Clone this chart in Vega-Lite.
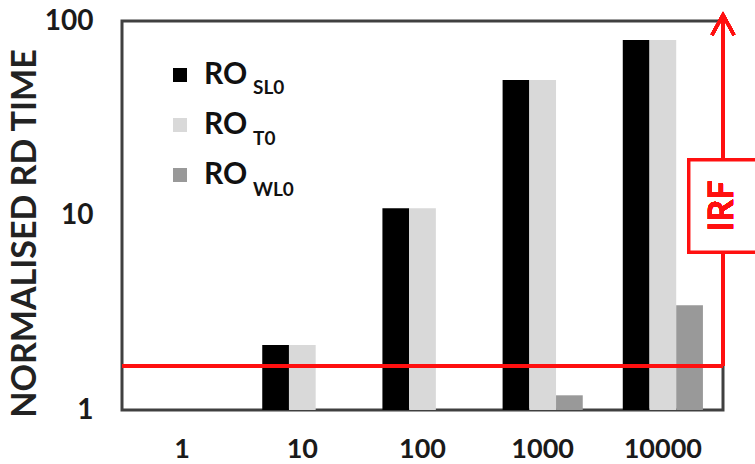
{
  "$schema": "https://vega.github.io/schema/vega-lite/v6.json",
  "width": 601,
  "height": 389,
  "autosize": {"type": "none"},
  "padding": {"left": 122, "top": 21, "right": 32, "bottom": 54},
  "background": "white",
  "config": {
    "view": {"stroke": "#404040", "strokeWidth": 3},
    "font": "Lato"
  },
  "data": {
    "values": [
      {"size": "1", "series": "RO_SL0", "sub": "SL0", "value": 1},
      {"size": "1", "series": "RO_T0", "sub": "T0", "value": 1},
      {"size": "1", "series": "RO_WL0", "sub": "WL0", "value": 1},
      {"size": "10", "series": "RO_SL0", "sub": "SL0", "value": 2.16},
      {"size": "10", "series": "RO_T0", "sub": "T0", "value": 2.16},
      {"size": "10", "series": "RO_WL0", "sub": "WL0", "value": 1},
      {"size": "100", "series": "RO_SL0", "sub": "SL0", "value": 10.9},
      {"size": "100", "series": "RO_T0", "sub": "T0", "value": 10.9},
      {"size": "100", "series": "RO_WL0", "sub": "WL0", "value": 1},
      {"size": "1000", "series": "RO_SL0", "sub": "SL0", "value": 49.8},
      {"size": "1000", "series": "RO_T0", "sub": "T0", "value": 49.8},
      {"size": "1000", "series": "RO_WL0", "sub": "WL0", "value": 1.19},
      {"size": "10000", "series": "RO_SL0", "sub": "SL0", "value": 79.9},
      {"size": "10000", "series": "RO_T0", "sub": "T0", "value": 79.9},
      {"size": "10000", "series": "RO_WL0", "sub": "WL0", "value": 3.46}
    ]
  },
  "layer": [
    {
      "mark": {"type": "bar"},
      "encoding": {
        "x": {
          "field": "size", "type": "nominal",
          "sort": ["1", "10", "100", "1000", "10000"],
          "scale": {"paddingInner": 0.333, "paddingOuter": 0.167},
          "axis": {
            "title": null, "labelAngle": 0, "ticks": false, "domain": false,
            "labelFontSize": 27, "labelFontWeight": "bold", "labelColor": "#1a1a1a", "labelPadding": 26,
            "labelFont": "Lato"
          }
        },
        "xOffset": {
          "field": "series", "type": "nominal",
          "sort": ["RO_SL0", "RO_T0", "RO_WL0"],
          "scale": {"paddingInner": 0, "paddingOuter": 0}
        },
        "y": {
          "field": "value", "type": "quantitative", "stack": null,
          "scale": {"type": "log", "domain": [1, 100], "nice": false},
          "axis": {
            "values": [1, 10, 100], "format": "d", "ticks": false, "domain": false, "grid": false,
            "labelFontSize": 28, "labelFontWeight": "bold", "labelColor": "#1a1a1a", "labelPadding": 29, "labelFont": "Lato",
            "title": "NORMALISED RD TIME", "titleFontSize": 34, "titleFont": "Lato",
            "titleFontWeight": "bold", "titleColor": "#222222",
            "titleX": -97, "titleY": 212, "titleAngle": 270,
            "titleAlign": "center", "titleBaseline": "middle"
          }
        },
        "color": {
          "field": "series", "type": "nominal",
          "scale": {"domain": ["RO_SL0", "RO_T0", "RO_WL0"], "range": ["#000000", "#d9d9d9", "#999999"]},
          "legend": {
            "orient": "none", "legendX": 43, "legendY": 39, "title": null,
            "symbolType": "square", "symbolSize": 196, "symbolStrokeWidth": 0,
            "labelFontSize": 30, "labelFont": "Lato", "labelFontWeight": "bold", "labelColor": "#111111",
            "labelOffset": 9, "rowPadding": 20, "padding": 0, "labelExpr": "'RO'"
          }
        },
        "opacity": {
          "field": "sub", "type": "ordinal",
          "scale": {"type": "ordinal", "domain": ["SL0", "T0", "WL0"], "range": [1, 1, 1]},
          "legend": {
            "orient": "none", "legendX": 112, "legendY": 57.5, "title": null,
            "symbolSize": 0, "symbolOpacity": 0, "symbolStrokeWidth": 0,
            "labelFontSize": 19, "labelFont": "Lato", "labelFontWeight": "bold", "labelColor": "#111111",
            "labelOffset": 0, "rowPadding": 31, "padding": 0
          }
        }
      }
    },
    {
      "mark": {"type": "rule", "color": "#ff1010", "strokeWidth": 3},
      "encoding": {
        "y": {"datum": 1.684}
      }
    },
    {
      "mark": {"type": "rule", "color": "#ff1010", "strokeWidth": 3},
      "encoding": {
        "x": {"value": "width"},
        "y": {"datum": 1.684},
        "y2": {"datum": 106}
      }
    },
    {
      "mark": {"type": "point", "shape": "M-0.55,1L0,0L0.55,1", "size": 1600, "filled": false, "stroke": "#ff1010", "strokeWidth": 3, "opacity": 1},
      "encoding": {
        "x": {"value": "width"},
        "y": {"datum": 107.4}
      }
    },
    {
      "mark": {"type": "point", "shape": "M-0.74,-1H0.74V1H-0.74Z", "size": 8464, "filled": true, "fill": "white", "stroke": "#ff1010", "strokeWidth": 3, "opacity": 1, "fillOpacity": 1},
      "encoding": {
        "x": {"value": "width"},
        "y": {"datum": 11.19}
      }
    },
    {
      "mark": {"type": "text", "text": "IRF", "angle": 270, "fontSize": 34, "fontWeight": "bold", "font": "Lato", "color": "#ff1010", "align": "center", "baseline": "middle"},
      "encoding": {
        "x": {"value": "width"},
        "y": {"datum": 11.19}
      }
    }
  ]
}
